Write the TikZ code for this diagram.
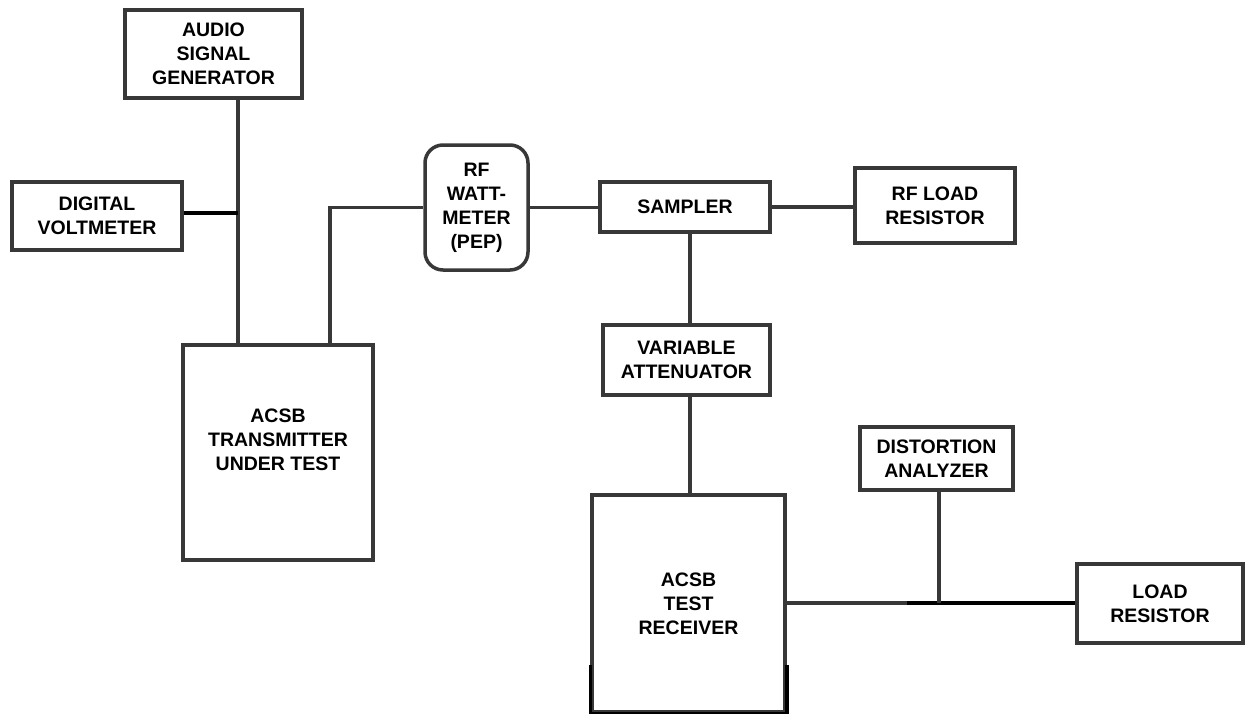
\documentclass[tikz,border=0pt]{standalone}
\usepackage{fontspec}
\setmainfont{Liberation Sans}
\definecolor{edge}{HTML}{383838}
\begin{document}
\begin{tikzpicture}[x=1pt,y=-1pt,
  box/.style={draw=edge, line width=3.5pt, fill=white, inner sep=0pt, align=center,
    font=\bfseries\fontsize{19.5}{24}\selectfont},
  lbl/.style={inner sep=0pt, align=center, font=\bfseries\fontsize{19.5}{24}\selectfont},
  wire/.style={draw=edge, line width=3.3pt},
  heavy/.style={draw=black, line width=4.5pt}]
\useasboundingbox (0,0) rectangle (1247,713);

% nodes
\node[box, minimum width=177pt, minimum height=88pt] (audio) at (213.5,54) {AUDIO\\SIGNAL\\GENERATOR};
\node[box, minimum width=170pt, minimum height=68pt] (volt) at (97,216) {DIGITAL\\VOLTMETER};
\node[box, minimum width=190pt, minimum height=215pt] (trans) at (278,452.5) {};
\node[lbl] (translbl) at (278,440) {ACSB\\TRANSMITTER\\UNDER TEST};
\node[box, rounded corners=18pt, minimum width=103pt, minimum height=125pt] (watt) at (476.5,207.5) {RF\\WATT-\\METER\\(PEP)};
\node[box, minimum width=170pt, minimum height=50pt] (samp) at (685,207) {SAMPLER};
\node[box, minimum width=160pt, minimum height=75pt] (rfload) at (935,205.5) {RF LOAD\\RESISTOR};
\node[box, minimum width=167pt, minimum height=70pt] (att) at (686.5,360) {VARIABLE\\ATTENUATOR};
\node[box, minimum width=153pt, minimum height=63pt] (dist) at (936.5,458.5) {DISTORTION\\ANALYZER};
\node[box, minimum width=193pt, minimum height=217pt] (rx) at (688.5,603.5) {ACSB\\TEST\\RECEIVER};
\node[box, minimum width=166pt, minimum height=79pt] (load) at (1160,603.5) {LOAD\\RESISTOR};

% helper coordinates
\coordinate (j1) at (238,213);
\coordinate (c2) at (330,208);
\coordinate (c3) at (690,300);
\coordinate (j2) at (939,603);
\coordinate (k) at (907,603);

% connectors
\draw[wire] (audio.south -| j1) -- (trans.north -| j1);
\draw[heavy] (volt.east |- j1) -- (j1);
\draw[wire] (trans.north -| c2) |- (watt.west);
\draw[wire] (watt.east) -- (samp.west |- watt.east);
\draw[wire] (samp.east) -- (samp.east -| rfload.west);
\draw[wire] (samp.south -| c3) -- (att.north -| c3);
\draw[wire] (att.south -| c3) -- (rx.north -| c3);
\draw[wire] (rx.east |- j2) -- (k);
\draw[heavy] (k) -- (load.west |- j2);
\draw[wire] (dist.south -| j2) -- (j2);

% darker lower part of the receiver box
\draw[black, line width=3.5pt] ([yshift=49pt]rx.south west) -- (rx.south west) -- (rx.south east) -- ([yshift=49pt]rx.south east);
\end{tikzpicture}
\end{document}
